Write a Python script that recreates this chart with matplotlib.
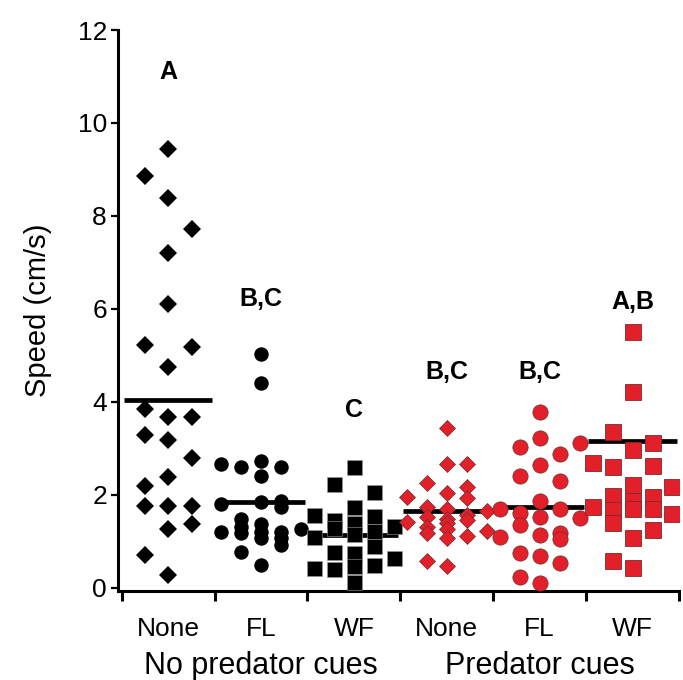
import numpy as np
import matplotlib
matplotlib.use("Agg")
import matplotlib.pyplot as plt
from matplotlib.transforms import blended_transform_factory

plt.rcParams['font.family'] = ['Liberation Sans', 'DejaVu Sans']

# categories
conditions = ['None', 'FL', 'WF', 'None', 'FL', 'WF']
cue_groups = ['No predator cues', 'Predator cues']
letters = ['A', 'B,C', 'C', 'B,C', 'B,C', 'A,B']
letter_y = [11.1, 6.2, 3.82, 4.63, 4.63, 6.15]
means = [4.04, 1.83, 1.13, 1.65, 1.73, 3.16]

# speeds (cm/s)
none_nc = [9.44, 8.86, 8.38, 7.72, 7.21, 6.10, 5.22, 5.18, 4.75, 3.84, 3.68, 3.68,
           3.28, 3.17, 2.78, 2.37, 2.18, 1.75, 1.75, 1.75, 1.36, 1.25, 0.70, 0.27]
fl_nc = [5.02, 4.41, 2.66, 2.59, 2.73, 2.41, 2.59, 1.80, 1.83, 1.87, 1.74, 1.47,
         1.19, 1.31, 1.18, 1.36, 1.20, 1.06, 1.20, 1.06, 0.91, 1.25, 0.77, 0.48]
wf_nc = [1.56, 1.09, 0.41, 2.23, 1.45, 1.29, 0.77, 0.39, 2.60, 1.73, 1.39, 1.15,
         0.75, 0.47, 0.11, 2.05, 1.54, 1.22, 0.90, 0.49, 1.32, 0.64]
none_pc = [3.43, 2.65, 2.65, 2.26, 2.04, 2.16, 1.92, 1.94, 1.73, 1.68, 1.65, 1.42,
           1.51, 1.30, 1.18, 1.47, 1.38, 1.25, 1.06, 1.56, 1.45, 1.11, 1.22, 0.58, 0.47]
fl_pc = [3.78, 3.21, 3.02, 2.87, 3.10, 2.64, 2.40, 2.30, 1.70, 1.87, 1.60, 1.68,
         1.52, 1.35, 1.49, 1.08, 1.13, 1.17, 1.04, 0.75, 0.68, 0.52, 0.22, 0.10]
wf_pc = [5.51, 4.21, 3.35, 2.97, 3.12, 2.69, 2.60, 2.62, 2.17, 2.21, 1.87, 1.68,
         1.97, 1.67, 1.39, 1.94, 1.68, 1.74, 1.58, 1.24, 1.06, 0.58, 0.41]

# scatter column of each point (as in the picture)
slot_none_nc = [0, -1, 0, 1, 0, 0, -1, 1, 0, -1, 0, 1, -1, 0, 1, 0, -1, -1, 0, 1, 1, 0, -1, 0]
slot_fl_nc = [0, 0, -2, -1, 0, 0, 1, -2, 0, 1, 1, -1, -2, -1, -1, 0, 0, 0, 1, 1, 1, 2, -1, 0]
slot_wf_nc = [-2, -2, -2, -1, -1, -1, -1, -1, 0, 0, 0, 0, 0, 0, 0, 1, 1, 1, 1, 1, 2, 2]
slot_none_pc = [0, 0, 1, -1, 0, 1, 1, -2, -1, 0, 2, -2, -1, -1, -1, 0, 0, 0, 0, 1, 1, 1, 2, -1, 0]
slot_fl_pc = [0, 0, -1, 1, 2, 0, -1, 1, -2, 0, -1, 1, 0, -1, 2, -2, 0, 1, 1, -1, 0, 1, -1, 0]
slot_wf_pc = [0, 0, -1, 0, 1, -2, -1, 1, 2, 0, 0, 0, -1, -1, -1, 1, 1, -2, 2, 1, 0, -1, 0]

groups = [none_nc, fl_nc, wf_nc, none_pc, fl_pc, wf_pc]
slots = [slot_none_nc, slot_fl_nc, slot_wf_nc, slot_none_pc, slot_fl_pc, slot_wf_pc]
steps = [0.252, 0.215, 0.215, 0.215, 0.215, 0.215]

red = '#E3202A'
styles = [
    dict(marker='D', ms=9.5, mfc='black', mec='black', mew=0),
    dict(marker='o', ms=10.4, mfc='black', mec='black', mew=0),
    dict(marker='s', ms=10.8, mfc='black', mec='#9a9a9a', mew=0.4),
    dict(marker='D', ms=8.0, mfc=red, mec='#6a3030', mew=0.5),
    dict(marker='o', ms=11, mfc=red, mec='#6a3030', mew=0.5),
    dict(marker='s', ms=11, mfc=red, mec='#7a2a2a', mew=0.6),
]

fig = plt.figure(figsize=(6.83, 6.80), dpi=100)
ax = fig.add_axes([118 / 683, 1 - 591 / 680, 561 / 683, 561 / 680])

for i, (vals, sl) in enumerate(zip(groups, slots)):
    x = i + np.array(sl) * steps[i]
    ax.plot(x, vals, linestyle='none', zorder=3, **styles[i])
    ax.plot([i - 0.475, i + 0.475], [means[i], means[i]], color='black', lw=3.4,
            solid_capstyle='butt', zorder=2)
    ax.text(i, letter_y[i], letters[i], ha='center', va='center',
            fontsize=18, fontweight='bold')

ax.set_xlim(-0.54, 5.5)
ax.set_ylim(-0.075, 12)
ax.set_yticks(np.arange(0, 13, 2))
ax.set_xticks(np.arange(-0.5, 6, 1))
ax.set_xticklabels([])
ax.set_xticks(np.arange(6), minor=True)
ax.set_xticklabels(conditions, minor=True)
ax.tick_params(axis='x', which='major', direction='out', length=7, width=2.2)
ax.tick_params(axis='x', which='minor', length=0, pad=19, labelsize=19)
ax.tick_params(axis='y', direction='out', length=5, width=1.6, labelsize=19, pad=3)

for side in ['top', 'right']:
    ax.spines[side].set_visible(False)
for side in ['left', 'bottom']:
    ax.spines[side].set_linewidth(2.2)

ax.set_ylabel('Speed (cm/s)', fontsize=21)
ax.yaxis.set_label_coords(-0.118, 0.5)

trans = blended_transform_factory(ax.transData, fig.transFigure)
for k, name in enumerate(cue_groups):
    ax.text(1 + 3 * k, 6 / 680, name, transform=trans, ha='center', va='baseline',
            fontsize=22)

fig.savefig('out.png', dpi=100)
